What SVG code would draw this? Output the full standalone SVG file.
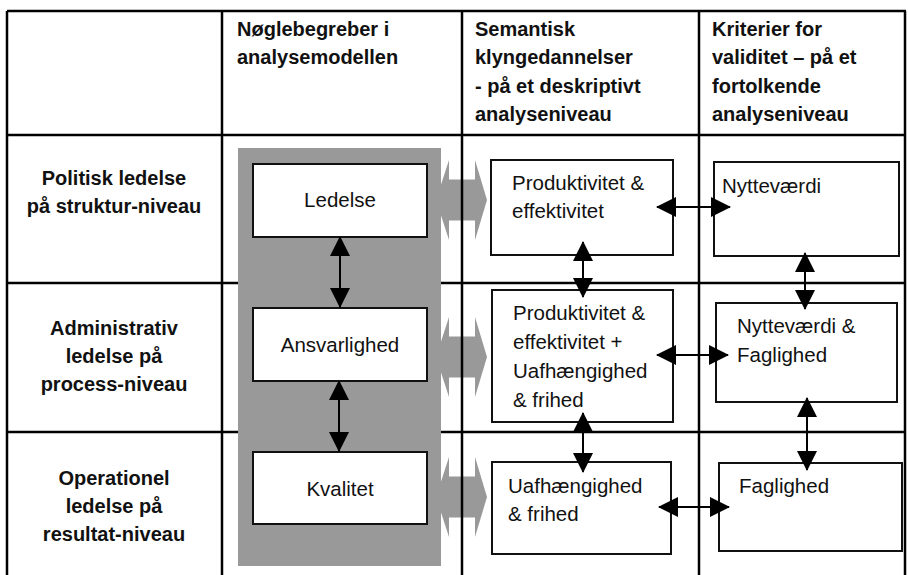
<svg xmlns="http://www.w3.org/2000/svg" width="908" height="575" viewBox="0 0 908 575">
<style>
text{font-family:"Liberation Sans",Arial,Helvetica,sans-serif;fill:#111}
.h{font-size:20px;font-weight:bold}
.r{font-size:20px;font-weight:bold;text-anchor:middle}
.b{font-size:20.5px}
.c{text-anchor:middle}
.grid{stroke:#000;stroke-width:2.5;fill:none}
.box{fill:#fff;stroke:#111;stroke-width:2}
.gray{fill:#999}
.con{stroke:#000;stroke-width:2;fill:none;marker-start:url(#ah);marker-end:url(#ah)}
</style>
<defs>
<marker id="ah" viewBox="0 0 20 20" refX="19" refY="10" markerWidth="20" markerHeight="20" markerUnits="userSpaceOnUse" orient="auto-start-reverse">
<path d="M0,0 L20,10 L0,20 Z" fill="#000"/>
</marker>
</defs>
<rect width="908" height="575" fill="#fff"/>
<g id="grid-h">
<line class="grid" x1="7" y1="11" x2="906" y2="11"/>
<line class="grid" x1="7" y1="135" x2="906" y2="135"/>
<line class="grid" x1="7" y1="283" x2="906" y2="283"/>
<line class="grid" x1="7" y1="432" x2="906" y2="432"/>
</g>
<g id="panel">
<rect class="gray" x="238" y="148" width="203" height="418"/>
<polygon class="gray" points="436,200 449,160 449,179.5 475,179.5 475,160 487,200 475,240 475,220.5 449,220.5 449,240"/>
<polygon class="gray" points="436,357 449,317 449,336.5 475,336.5 475,317 487,357 475,397 475,377.5 449,377.5 449,397"/>
<polygon class="gray" points="436,497 449,457 449,476.5 475,476.5 475,457 487,497 475,537 475,517.5 449,517.5 449,537"/>
</g>
<g id="grid-v">
<line class="grid" x1="7" y1="11" x2="7" y2="575"/>
<line class="grid" x1="222" y1="11" x2="222" y2="575"/>
<line class="grid" x1="462" y1="11" x2="462" y2="575"/>
<line class="grid" x1="699" y1="11" x2="699" y2="575"/>
<line class="grid" x1="905" y1="11" x2="905" y2="575"/>
</g>
<g id="headers">
<text class="h" x="237" y="36">Nøglebegreber i</text>
<text class="h" x="237" y="64">analysemodellen</text>
<text class="h" x="475" y="36">Semantisk</text>
<text class="h" x="475" y="64">klyngedannelser</text>
<text class="h" x="475" y="93">- på et deskriptivt</text>
<text class="h" x="475" y="121">analyseniveau</text>
<text class="h" x="712" y="36">Kriterier for</text>
<text class="h" x="712" y="64">validitet – på et</text>
<text class="h" x="712" y="93">fortolkende</text>
<text class="h" x="712" y="121">analyseniveau</text>
</g>
<g id="row-labels">
<text class="r" x="114" y="185">Politisk ledelse</text>
<text class="r" x="114" y="213">på struktur-niveau</text>
<text class="r" x="114" y="335">Administrativ</text>
<text class="r" x="114" y="363">ledelse på</text>
<text class="r" x="114" y="391">process-niveau</text>
<text class="r" x="114" y="485">Operationel</text>
<text class="r" x="114" y="513">ledelse på</text>
<text class="r" x="114" y="541">resultat-niveau</text>
</g>
<g id="ledelse"><rect class="box" x="253" y="164" width="174" height="73"/><text class="b c" x="340" y="207">Ledelse</text></g>
<g id="ansvarlighed"><rect class="box" x="253" y="308" width="174" height="73"/><text class="b c" x="340" y="352">Ansvarlighed</text></g>
<g id="kvalitet"><rect class="box" x="253" y="452" width="174" height="72"/><text class="b c" x="340" y="496">Kvalitet</text></g>
<g id="prod1"><rect class="box" x="491" y="160" width="182" height="95"/><text class="b" x="512" y="190">Produktivitet &amp;</text><text class="b" x="512" y="218">effektivitet</text></g>
<g id="prod2"><rect class="box" x="492" y="290" width="181" height="132"/><text class="b" x="513" y="320">Produktivitet &amp;</text><text class="b" x="513" y="349">effektivitet +</text><text class="b" x="513" y="378">Uafhængighed</text><text class="b" x="513" y="407">&amp; frihed</text></g>
<g id="uaf"><rect class="box" x="492" y="462" width="179" height="92"/><text class="b" x="508" y="493">Uafhængighed</text><text class="b" x="508" y="521">&amp; frihed</text></g>
<g id="nytte"><rect class="box" x="714" y="162" width="185" height="94"/><text class="b" x="722" y="193">Nytteværdi</text></g>
<g id="nyttefag"><rect class="box" x="716" y="303" width="181" height="99"/><text class="b" x="737" y="333">Nytteværdi &amp;</text><text class="b" x="737" y="362">Faglighed</text></g>
<g id="faglighed"><rect class="box" x="719" y="463" width="183" height="88"/><text class="b" x="739" y="493">Faglighed</text></g>
<g id="connectors">
<line class="con" x1="340" y1="237" x2="340" y2="307"/>
<line class="con" x1="339" y1="381" x2="339" y2="451"/>
<line class="con" x1="583" y1="242" x2="583" y2="297"/>
<line class="con" x1="583" y1="413" x2="583" y2="472"/>
<line class="con" x1="805" y1="253" x2="805" y2="309"/>
<line class="con" x1="807" y1="398" x2="807" y2="470"/>
<line class="con" x1="657" y1="207" x2="730" y2="207"/>
<line class="con" x1="657" y1="355" x2="728" y2="355"/>
<line class="con" x1="659" y1="507" x2="729" y2="507"/>
</g>
</svg>
